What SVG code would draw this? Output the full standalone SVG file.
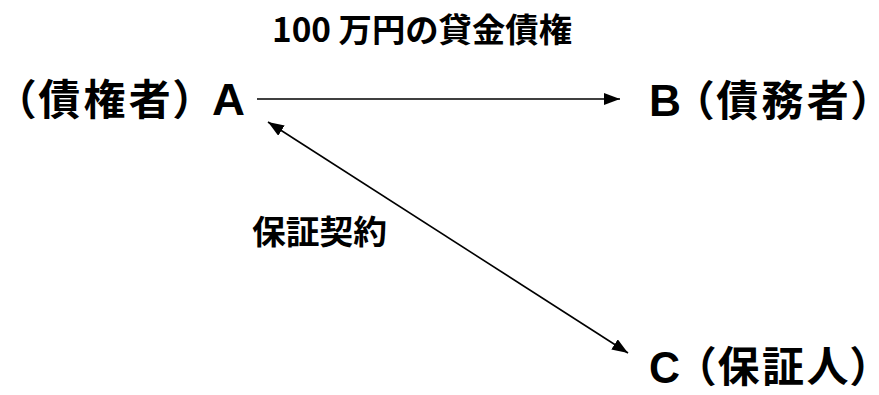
<svg xmlns="http://www.w3.org/2000/svg" width="879" height="395" viewBox="0 0 879 395">
<style>
text{font-family:"Liberation Sans","Noto Sans CJK JP",sans-serif;font-weight:bold;fill:#000}
.cjk{font-family:"Noto Sans CJK JP",sans-serif;font-size:42px;font-feature-settings:"palt" 1}
.lat{font-size:44px}
.lbl{font-family:"Noto Sans CJK JP",sans-serif;font-size:33px}
.edge{stroke:#000;stroke-width:1.6;fill:none}
</style>
<defs>
<marker id="ah" markerUnits="userSpaceOnUse" markerWidth="18" markerHeight="12" refX="16" refY="6" orient="auto-start-reverse">
<path d="M0,0 L16,6 L0,12 z" fill="#000"/>
</marker>
</defs>
<rect width="879" height="395" fill="#fff"/>
<g id="connectors">
<line class="edge" x1="257" y1="99" x2="620" y2="99" marker-end="url(#ah)"/>
<line class="edge" x1="268" y1="122" x2="628" y2="353" marker-start="url(#ah)" marker-end="url(#ah)"/>
<text class="lbl" x="272" y="42" textLength="300" lengthAdjust="spacingAndGlyphs">100 万円の貸金債権</text>
<text class="lbl" x="252" y="244" textLength="135" lengthAdjust="spacingAndGlyphs">保証契約</text>
</g>
<g id="nodeA">
<text class="cjk" x="14" y="115" textLength="181" lengthAdjust="spacing">（債権者）</text>
<text class="lat" x="212" y="115" textLength="33" lengthAdjust="spacingAndGlyphs">A</text>
</g>
<g id="nodeB">
<text class="lat" x="649" y="116" textLength="32" lengthAdjust="spacingAndGlyphs">B</text>
<text class="cjk" x="692" y="116" textLength="181" lengthAdjust="spacing">（債務者）</text>
</g>
<g id="nodeC">
<text class="lat" x="649" y="383" textLength="31" lengthAdjust="spacingAndGlyphs">C</text>
<text class="cjk" x="694" y="382" textLength="178" lengthAdjust="spacing">（保証人）</text>
</g>
</svg>
